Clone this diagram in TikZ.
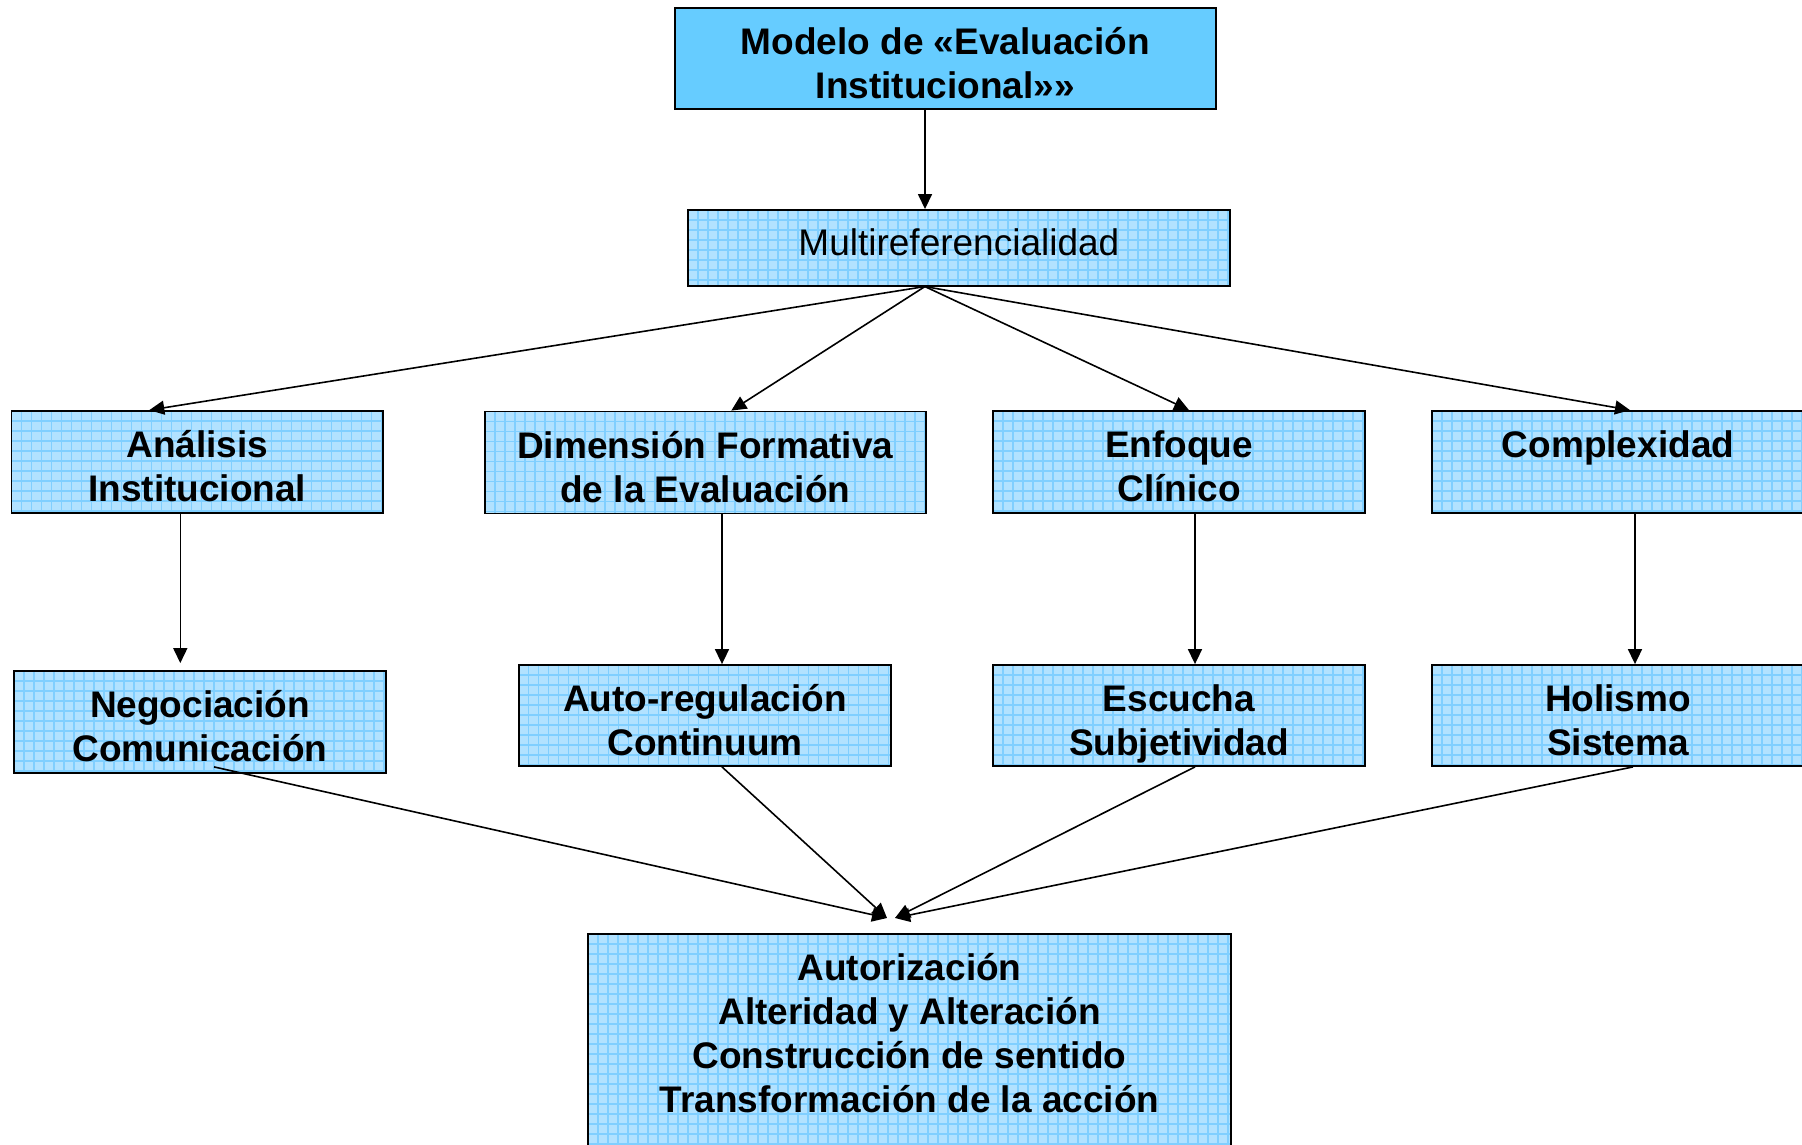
\documentclass[tikz,border=0pt]{standalone}
\usepackage{fontspec}
\setmainfont{Liberation Sans}
\usetikzlibrary{arrows.meta,calc}
\definecolor{topfill}{HTML}{66CCFF}
\definecolor{cellfill}{HTML}{B2E2FF}
\definecolor{gridc}{HTML}{80CFFF}
\newcommand{\tstr}{\rule{0pt}{44.5pt}}
\newcommand{\bstr}{\rule[-0.25em]{0pt}{0.25em}}
\tikzset{
  txt/.style={font=\fontsize{37}{44}\selectfont\bfseries, align=center, inner sep=0pt},
  solidbox/.style={draw=black, line width=1.8pt, fill=topfill, inner sep=0pt, align=center,
    font=\fontsize{37}{44}\selectfont\bfseries},
  gridbox/.style={draw=black, line width=1.8pt, fill=cellfill, inner sep=0pt, align=center,
    font=\fontsize{37}{44}\selectfont\bfseries,
    path picture={
      \foreach \k in {0,10,...,700}{
        \draw[gridc, line width=1.3pt] ([xshift=\k pt]path picture bounding box.north west) -- ([xshift=\k pt]path picture bounding box.south west);
      }
      \foreach \k in {0,10,...,300}{
        \draw[gridc, line width=1.3pt] ([yshift=-\k pt]path picture bounding box.north west) -- ([yshift=-\k pt]path picture bounding box.north east);
      }
    }},
  conn/.style={draw=black, line width=1.6pt, -{Triangle[length=15pt,width=14pt]}}
}
\begin{document}
\begin{tikzpicture}[x=1pt,y=-1pt]
\useasboundingbox (0,0) rectangle (1802,1144);
\clip (0,0) rectangle (1802,1144);
% boxes
\node[solidbox, minimum width=541.4pt, minimum height=101pt] (top) at (945.3,58.5) {\tstr Modelo de «Evaluación\\Institucional»»\bstr};
\node[gridbox, minimum width=541.6pt, minimum height=75.7pt, font=\fontsize{37}{44}\selectfont] (multi) at (958.9,247.8) {\raisebox{6pt}[26.5pt][0pt]{Multireferencialidad}};
\node[gridbox, minimum width=371.5pt, minimum height=102pt] (ana) at (197.3,462) {\tstr Análisis\\Institucional\bstr};
\node[gridbox, minimum width=440.6pt, minimum height=102pt] (dim) at (705.3,462.5) {\tstr Dimensión Formativa\\de la Evaluación\bstr};
\node[gridbox, minimum width=372pt, minimum height=102pt] (enf) at (1179,462) {\tstr Enfoque\\Clínico\bstr};
\node[gridbox, minimum width=372pt, minimum height=102pt] (com) at (1618,462) {\tstr Complexidad\\\mbox{}\bstr};
\node[gridbox, minimum width=372pt, minimum height=102pt] (neg) at (200,722) {\tstr Negociación\\Comunicación\bstr};
\node[gridbox, minimum width=372.7pt, minimum height=101pt] (aut) at (705,715.5) {\tstr Auto-regulación\\Continuum\bstr};
\node[gridbox, minimum width=372pt, minimum height=101pt] (esc) at (1179,715.5) {\tstr Escucha\\Subjetividad\bstr};
\node[gridbox, minimum width=372pt, minimum height=101pt] (hol) at (1618,715.5) {\tstr Holismo\\Sistema\bstr};
\node[gridbox, minimum width=643pt, minimum height=236pt] (fin) at (909.5,1052) {};
\node[txt, anchor=north] (fintxt) at (909.5,953) {Autorización\\Alteridad y Alteración\\Construcción de sentido\\Transformación de la acción};
% convergence points
\coordinate (inL) at (887,918);
\coordinate (inR) at (895,918);
% connectors
\draw[conn] ([xshift=-20.3pt]top.south) -- ([xshift=-33.9pt]multi.north);
\draw[conn] ([xshift=-34pt]multi.south) -- ([xshift=-48pt]ana.north);
\draw[conn] ([xshift=-34pt]multi.south) -- ([xshift=26pt]dim.north);
\draw[conn] ([xshift=-34pt]multi.south) -- ([xshift=10pt]enf.north);
\draw[conn] ([xshift=-34pt]multi.south) -- ([xshift=12pt]com.north);
\draw[conn, shorten >=7pt] ([xshift=-17pt]ana.south) -- ([xshift=-17pt]ana.south |- neg.north);
\draw[conn] ([xshift=16.7pt]dim.south) -- ([xshift=16.7pt]dim.south |- aut.north);
\draw[conn] ([xshift=16pt]enf.south) -- ([xshift=16pt]enf.south |- esc.north);
\draw[conn] ([xshift=17pt]com.south) -- ([xshift=17pt]com.south |- hol.north);
\draw[conn] ([xshift=14pt,yshift=7pt]neg.south) -- (inL);
\draw[conn] ([xshift=17pt]aut.south) -- (inL);
\draw[conn] ([xshift=16pt]esc.south) -- (inR);
\draw[conn] ([xshift=15pt]hol.south) -- (inR);
\end{tikzpicture}
\end{document}
